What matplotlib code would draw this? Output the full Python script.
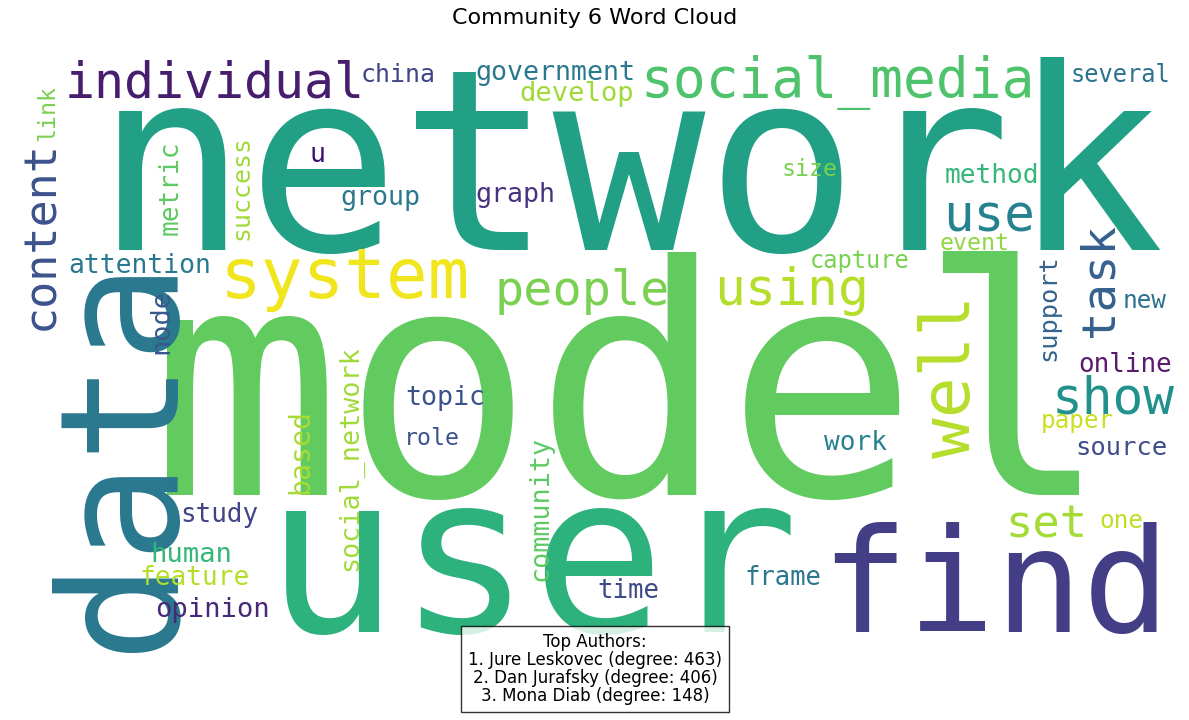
import matplotlib
matplotlib.use("Agg")
import matplotlib.pyplot as plt

words = ["network","model","user","find","data","system","social_media","individual",
         "people","using","use","task","show","well","set","one","paper","source","online",
         "new","support","event","content","link","metric","success","u","group","graph",
         "size","method","capture","attention","node","social_network","topic","role",
         "based","community","work","study","human","feature","opinion","time","frame",
         "china","government","develop","several"]
colors = ["#21a085","#62cb5f","#2db27d","#433e85","#2a788e","#f1e51d","#4ec36b","#471d6e",
          "#7ad151","#b5de2b","#26828e","#35608d","#21918c","#b5de2b","#a5db36","#bddf26",
          "#c8e020","#3e4c8a","#5c1a6d","#2c728e","#33638d","#8fd744","#3b528b","#7ad151",
          "#5ec962","#a0da39","#3b0f70","#2a788e","#46327e","#7ad151","#35b779","#7ad151",
          "#2a788e","#38598c","#a0da39","#3b528b","#3b528b","#a8db34","#5ec962","#26828e",
          "#414487","#35b779","#b5de2b","#482878","#3e4a89","#2a788e","#414487","#2a788e",
          "#a0da39","#2c728e"]
# layout: (anchor_a, anchor_b, length_px, rotation)
# horizontal: (x_center, baseline_y); vertical: (baseline_x, y_center)
layout = [(630,250,1070,0),(630,495,960,0),(532,632,535,0),(995,632,350,0),(168,452,400,90),
          (345,298,250,0),(838,97,395,0),(215,97,300,0),(582,305,175,0),(792,305,155,0),
          (989,232,92,0),(1112,280,114,90),(1113,413,123,0),(970,376,163,90),(1046,538,82,0),
          (1121,528,44,0),(1077,428,73,0),(1121,455,92,0),(1125,372,94,0),(1145,308,44,0),
          (1055,308,107,90),(975,250,70,0),(53,235,190,90),(54,113,56,90),(178,188,95,90),
          (248,188,105,90),(317,162,16,0),(380,205,80,0),(515,202,80,0),(810,176,56,0),
          (992,183,95,0),(860,268,100,0),(140,273,143,0),(168,322,65,90),(357,458,225,90),
          (445,405,80,0),(432,445,56,0),(308,452,85,90),(548,508,145,90),(856,450,63,0),
          (219,522,78,0),(191,562,82,0),(195,585,110,0),(212,617,115,0),(628,598,62,0),
          (783,585,77,0),(398,82,75,0),(555,80,160,0),(577,101,115,0),(1120,82,100,0)]

authors = ["Jure Leskovec", "Dan Jurafsky", "Mona Diab"]
degrees = [463, 406, 148]

fig = plt.figure(figsize=(11.89, 7.2), dpi=100)
ax = fig.add_axes([0, 0, 1, 1])
ax.set_xlim(0, 1189)
ax.set_ylim(720, 0)
ax.axis("off")

for w, c, (a, b, L, rot) in zip(words, colors, layout):
    em_px = L / (len(w) * 0.602)
    fs = em_px * 72 / 100
    ax.text(a, b, w, fontsize=fs, color=c, family="DejaVu Sans Mono",
            rotation=rot, rotation_mode="anchor", ha="center", va="baseline")

ax.text(594.5, 18, "Community 6 Word Cloud", fontsize=16, ha="center", va="center")
txt = "Top Authors:\n" + "\n".join(f"{i+1}. {a} (degree: {d})" for i, (a, d) in enumerate(zip(authors, degrees)))
ax.text(595, 669, txt, fontsize=12, ha="center", va="center", linespacing=1.0,
        bbox=dict(boxstyle="square,pad=0.4", facecolor="white", edgecolor="black", alpha=0.8))

fig.savefig("out.png", dpi=100, facecolor="white")
